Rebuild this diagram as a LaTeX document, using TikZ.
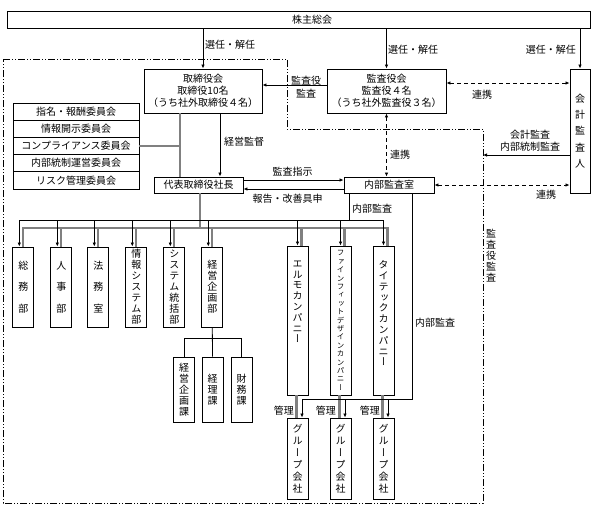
\documentclass[tikz,border=0pt]{standalone}
\usepackage{fontspec}
\setmainfont{Noto Sans CJK JP}
\newfontfamily\tatefont[RawFeature=+vert]{Noto Sans CJK JP}
\usetikzlibrary{arrows.meta}

\tikzset{
  box/.style={draw, line width=0.9pt, inner sep=1pt, align=center, font=\fontsize{10}{12}\selectfont},
  tate/.style={draw, line width=0.9pt, inner sep=0pt, align=center, minimum width=21pt, font=\tatefont\fontsize{10}{11}\selectfont},
  sparse/.style={font=\tatefont\fontsize{10}{21.5}\selectfont},
  vtxt/.style={inner sep=0pt, align=center, font=\tatefont\fontsize{10}{10.8}\selectfont},
  lbl/.style={inner sep=0pt, font=\fontsize{10}{12}\selectfont},
  arr/.style={line width=0.8pt, -{Latex[length=4pt,width=3.5pt]}},
  link/.style={line width=0.9pt, dash pattern=on 4pt off 3pt, {Latex[length=4pt,width=3.5pt]}-{Latex[length=4pt,width=3.5pt]}},
  mgmt/.style={line width=2.2pt, gray},
  plain/.style={line width=0.8pt},
  audit area/.style={line width=0.8pt, dash pattern=on 7pt off 2pt on 1pt off 2pt on 1pt off 2pt}
}

\begin{document}
\begin{tikzpicture}[x=1pt, y=-1pt]

	\useasboundingbox (0,0) rectangle (594,506);

	\node[box, minimum width=583pt, minimum height=17pt] (kabu) at (298.5,19.5) {\hspace*{27pt}株主総会};

	\node[box, minimum width=118pt, minimum height=44pt] (torikai) at (203,91) {取締役会\\取締役10名\\（うち社外取締役４名）};
	\node[box, minimum width=119pt, minimum height=44pt] (kansakai) at (386.5,91) {監査役会\\監査役４名\\（うち社外監査役３名）};
	\node[tate, minimum width=20pt, minimum height=124pt, font=\tatefont\fontsize{10}{16.25}\selectfont] (kaikei) at (580,131) {会\\計\\監\\査\\人};

	\node[box, minimum width=126pt, minimum height=17.2pt] (shimei) at (76,111.6) {指名・報酬委員会};
	\node[box, minimum width=126pt, minimum height=17.2pt] (kaiji) at (76,128.8) {情報開示委員会};
	\node[box, minimum width=126pt, minimum height=17.2pt] (compliance) at (76,146) {コンプライアンス委員会};
	\node[box, minimum width=126pt, minimum height=17.2pt] (naitou) at (76,163.2) {内部統制運営委員会};
	\node[box, minimum width=126pt, minimum height=17.2pt] (risk) at (76,180.4) {リスク管理委員会};

	\node[box, minimum width=89pt, minimum height=16pt] (shacho) at (198.5,185) {代表取締役社長};
	\node[box, minimum width=90pt, minimum height=16pt] (naibu) at (389,185) {内部監査室};

	\node[tate, sparse, minimum height=80pt] (soumu) at (23.3,287) {総\\務\\部};
	\node[tate, sparse, minimum height=80pt] (jinji) at (61.3,287) {人\\事\\部};
	\node[tate, sparse, minimum height=80pt] (houmu) at (98.3,287) {法\\務\\室};
	\node[tate, minimum height=80pt] (joho) at (136.3,287) {情\\報\\シ\\ス\\テ\\ム\\部};
	\node[tate, minimum height=80pt] (system) at (174.3,287) {シ\\ス\\テ\\ム\\統\\括\\部};
	\node[tate, minimum height=80pt] (keiki) at (212.3,287) {経\\営\\企\\画\\部};

	\node[tate, minimum height=65pt] (keikika) at (184,389.5) {経\\営\\企\\画\\課};
	\node[tate, minimum height=65pt] (keiri) at (212.5,389.5) {経\\理\\課};
	\node[tate, minimum height=65pt] (zaimu) at (241.5,389.5) {財\\務\\課};

	\node[tate, minimum height=149pt] (elmo) at (297.5,320.5) {};
	\node[vtxt, anchor=north] (elmo-t) at ([yshift=-15pt]elmo.north) {エ\\ル\\モ\\カ\\ン\\パ\\ニ\\ー};
	\node[tate, minimum height=149pt, font=\tatefont\fontsize{7.5}{8.4}\selectfont] (fine) at (340.5,320.5) {フ\\ァ\\イ\\ン\\フ\\ィ\\ッ\\ト\\デ\\ザ\\イ\\ン\\カ\\ン\\パ\\ニ\\ー};
	\node[tate, minimum height=149pt] (taitec) at (383.5,320.5) {};
	\node[vtxt, anchor=north] (taitec-t) at ([yshift=-15pt]taitec.north) {タ\\イ\\テ\\ッ\\ク\\カ\\ン\\パ\\ニ\\ー};

	\node[tate, minimum height=81pt, font=\tatefont\fontsize{10}{12}\selectfont] (grp1) at (297.5,458.5) {グ\\ル\\ー\\プ\\会\\社};
	\node[tate, minimum height=81pt, font=\tatefont\fontsize{10}{12}\selectfont] (grp2) at (340.5,458.5) {グ\\ル\\ー\\プ\\会\\社};
	\node[tate, minimum height=81pt, font=\tatefont\fontsize{10}{12}\selectfont] (grp3) at (383.5,458.5) {グ\\ル\\ー\\プ\\会\\社};

	\draw[audit area] (3,59) -- (287,59) -- (287,129) -- (483,129) -- (483,503) -- (3,503) -- cycle;
	\node[vtxt, font=\tatefont\fontsize{10}{11}\selectfont] (kansaarea) at (491,256) {監\\査\\役\\監\\査};

	\draw[arr] (kabu.south -| torikai.north) -- (torikai.north);
	\draw[arr] (kabu.south -| kansakai.north) -- (kansakai.north);
	\draw[arr] (kabu.south -| kaikei.north) -- (kaikei.north);
	\node[lbl, anchor=west] (sen1) at (205,45) {選任・解任};
	\node[lbl, anchor=west] (sen2) at (388,50) {選任・解任};
	\node[lbl, anchor=east] (sen3) at (576,50) {選任・解任};

	\draw[arr] ([yshift=6pt]kansakai.west) -- ([yshift=6pt]torikai.east);
	\node[lbl, align=center, font=\fontsize{10}{13}\selectfont] (kansa) at (306,87) {監査役\\監査};

	\draw[link] ([yshift=8pt]kansakai.east) -- ([yshift=8pt]kansakai.east -| kaikei.west);
	\node[lbl] (renkei1) at (482,95) {連携};
	\draw[link] (kansakai.south) -- (kansakai.south |- naibu.north);
	\node[lbl, anchor=west] (renkei2) at (390,155) {連携};
	\draw[link] (naibu.east) -- (naibu.east -| kaikei.west);
	\node[lbl] (renkei3) at (546,195) {連携};

	\coordinate (areaedge) at (483,155);
	\draw[arr] (kaikei.west |- areaedge) -- (areaedge);
	\node[lbl, align=center] (kaikeikansa) at (530,141) {会計監査\\内部統制監査};

	\coordinate (kaigi) at ([xshift=-23pt]torikai.south);
	\draw[mgmt] (kaigi) -- (kaigi |- shacho.north);
	\draw[mgmt] (compliance.east) -- (compliance.east -| kaigi);
	\draw[arr] ([xshift=17pt]torikai.south) -- ([xshift=17pt]torikai.south |- shacho.north);
	\node[lbl, anchor=west] (kantoku) at (224,142) {経営監督};

	\draw[arr] ([yshift=5pt]shacho.east) -- ([yshift=5pt]shacho.east -| naibu.west);
	\node[lbl] (shiji) at (292.5,172) {監査指示};
	\draw[arr] ([yshift=-4pt]naibu.west) -- ([yshift=-4pt]naibu.west -| shacho.east);
	\node[lbl] (houkoku) at (287.5,199) {報告・改善具申};

	\coordinate (mbus) at (200,228);
	\coordinate (abus) at (349,220);
	\draw[mgmt] ([xshift=1.5pt]shacho.south) -- ([xshift=1.5pt]shacho.south |- mbus);
	\draw[mgmt] (soumu.north) |- ([xshift=4pt]taitec.north |- mbus) -- ([xshift=4pt]taitec.north);
	\draw[mgmt] (jinji.north |- mbus) -- (jinji.north);
	\draw[mgmt] (houmu.north |- mbus) -- (houmu.north);
	\draw[mgmt] (joho.north |- mbus) -- (joho.north);
	\draw[mgmt] (system.north |- mbus) -- (system.north);
	\draw[mgmt] (keiki.north |- mbus) -- (keiki.north);
	\draw[mgmt] ([xshift=4pt]elmo.north |- mbus) -- ([xshift=4pt]elmo.north);
	\draw[mgmt] ([xshift=4pt]fine.north |- mbus) -- ([xshift=4pt]fine.north);

	\draw[plain] ([xshift=-40pt]naibu.south) -- ([xshift=-40pt]naibu.south |- abus);
	\draw[plain] ([xshift=-4pt]soumu.north |- abus) -- (taitec.north |- abus);
	\node[lbl, anchor=west] (naibukansa1) at (352,209) {内部監査};
	\draw[arr] ([xshift=-4pt]soumu.north |- abus) -- ([xshift=-4pt]soumu.north);
	\draw[arr] ([xshift=-4pt]jinji.north |- abus) -- ([xshift=-4pt]jinji.north);
	\draw[arr] ([xshift=-4pt]houmu.north |- abus) -- ([xshift=-4pt]houmu.north);
	\draw[arr] ([xshift=-4pt]joho.north |- abus) -- ([xshift=-4pt]joho.north);
	\draw[arr] ([xshift=-4pt]system.north |- abus) -- ([xshift=-4pt]system.north);
	\draw[arr] ([xshift=-4pt]keiki.north |- abus) -- ([xshift=-4pt]keiki.north);
	\draw[arr] (elmo.north |- abus) -- (elmo.north);
	\draw[arr] (fine.north |- abus) -- (fine.north);
	\draw[arr] (taitec.north |- abus) -- (taitec.north);

	\draw[plain] (keiki.south) -- (keiri.north);
	\draw[plain] (keikika.north) |- (zaimu.north |- 0,338) -- (zaimu.north);

	\coordinate (gbus) at (412,399);
	\draw[mgmt] ([xshift=-1pt]elmo.south) -- ([xshift=-1pt]grp1.north);
	\draw[mgmt] ([xshift=-1pt]fine.south) -- ([xshift=-1pt]grp2.north);
	\draw[mgmt] ([xshift=-1pt]taitec.south) -- ([xshift=-1pt]grp3.north);
	\draw[plain] ([xshift=23pt]naibu.south) |- ([xshift=4.5pt]grp1.north |- gbus);
	\draw[arr] ([xshift=4.5pt]grp1.north |- gbus) -- ([xshift=4.5pt]grp1.north);
	\draw[arr] ([xshift=4.5pt]grp2.north |- gbus) -- ([xshift=4.5pt]grp2.north);
	\draw[arr] ([xshift=4.5pt]grp3.north |- gbus) -- ([xshift=4.5pt]grp3.north);
	\node[lbl, anchor=west] (naibukansa2) at (415,323) {内部監査};
	\node[lbl, anchor=east] (kanri1) at (294,411) {管理};
	\node[lbl, anchor=east] (kanri2) at (336,411) {管理};
	\node[lbl, anchor=east] (kanri3) at (380,411) {管理};

\end{tikzpicture}
\end{document}
